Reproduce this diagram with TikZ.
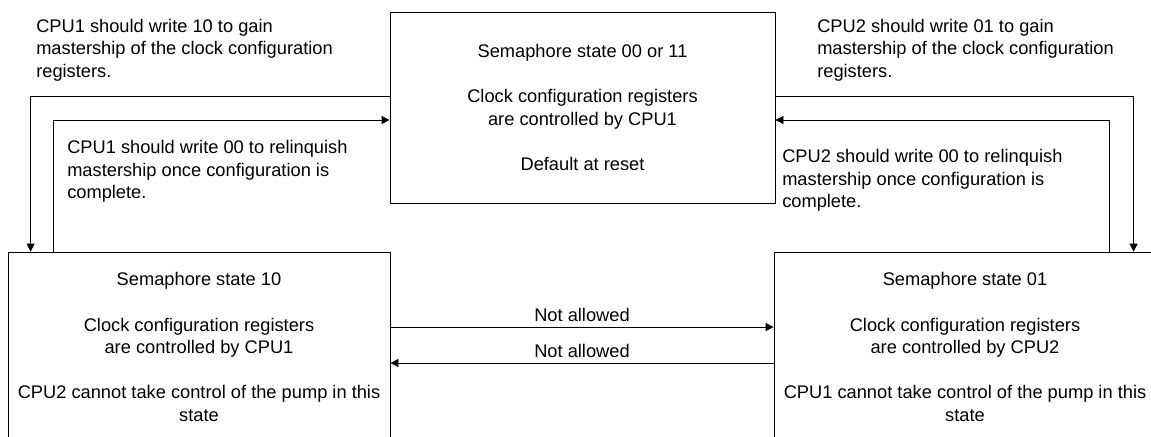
\documentclass[tikz,border=0pt]{standalone}
\usepackage{fontspec}
\setmainfont{Liberation Sans}
\usetikzlibrary{arrows.meta}

\begin{document}
\begin{tikzpicture}[x=0.75pt,y=-0.75pt,
    font=\fontsize{13.7}{16.9}\selectfont,
    state/.style={draw,line width=0.6pt,minimum width=286.5pt,minimum height=142.5pt,align=center,inner sep=0pt},
    note/.style={anchor=north west,align=left,inner sep=0pt},
    arr/.style={line width=0.6pt,-{Triangle[length=6pt,width=6pt]}}]
  \useasboundingbox (0,0) rectangle (1151,436);
  \clip (0,0) rectangle (1151,436); % bottom boxes run off the page
  % states
  \node[state,minimum width=288.75pt,minimum height=143.25pt] (idle) at (582.5,107.5)
    {Semaphore state 00 or 11\\[16.9pt]Clock configuration registers\\are controlled by CPU1\\[16.9pt]Default at reset};
  \node[state] (cpuone) at (199,347)
    {Semaphore state 10\\[16.9pt]Clock configuration registers\\are controlled by CPU1\\[16.9pt]CPU2 cannot take control of the pump in this\\state};
  \node[state] (cputwo) at (965,347)
    {Semaphore state 01\\[16.9pt]Clock configuration registers\\are controlled by CPU2\\[16.9pt]CPU1 cannot take control of the pump in this\\state};
  % notes
  \node[note] (gainone) at (36,18.5) {CPU1 should write 10 to gain\\mastership of the clock configuration\\registers.};
  \node[note] (freeone) at (67,140) {CPU1 should write 00 to relinquish\\mastership once configuration is\\complete.};
  \node[note] (gaintwo) at (817,18.5) {CPU2 should write 01 to gain\\mastership of the clock configuration\\registers.};
  \node[note] (freetwo) at (782,149) {CPU2 should write 00 to relinquish\\mastership once configuration is\\complete.};
  % transitions
  \draw[arr] ([shift={(0,-11.5)}]idle.west) -| ([shift={(23,0)}]cpuone.north west);
  \draw[arr] ([shift={(46,0)}]cpuone.north west) |- ([shift={(0,12.5)}]idle.west);
  \draw[arr] ([shift={(0,-11.5)}]idle.east) -| ([shift={(360,0)}]cputwo.north west);
  \draw[arr] ([shift={(336,0)}]cputwo.north west) |- ([shift={(0,12.5)}]idle.east);
  \draw[arr] ([shift={(0,-20)}]cpuone.east) -- node[above] {Not allowed} ([shift={(0,-20)}]cputwo.west);
  \draw[arr] ([shift={(0,16)}]cputwo.west) -- node[above] {Not allowed} ([shift={(0,16)}]cpuone.east);
\end{tikzpicture}
\end{document}
